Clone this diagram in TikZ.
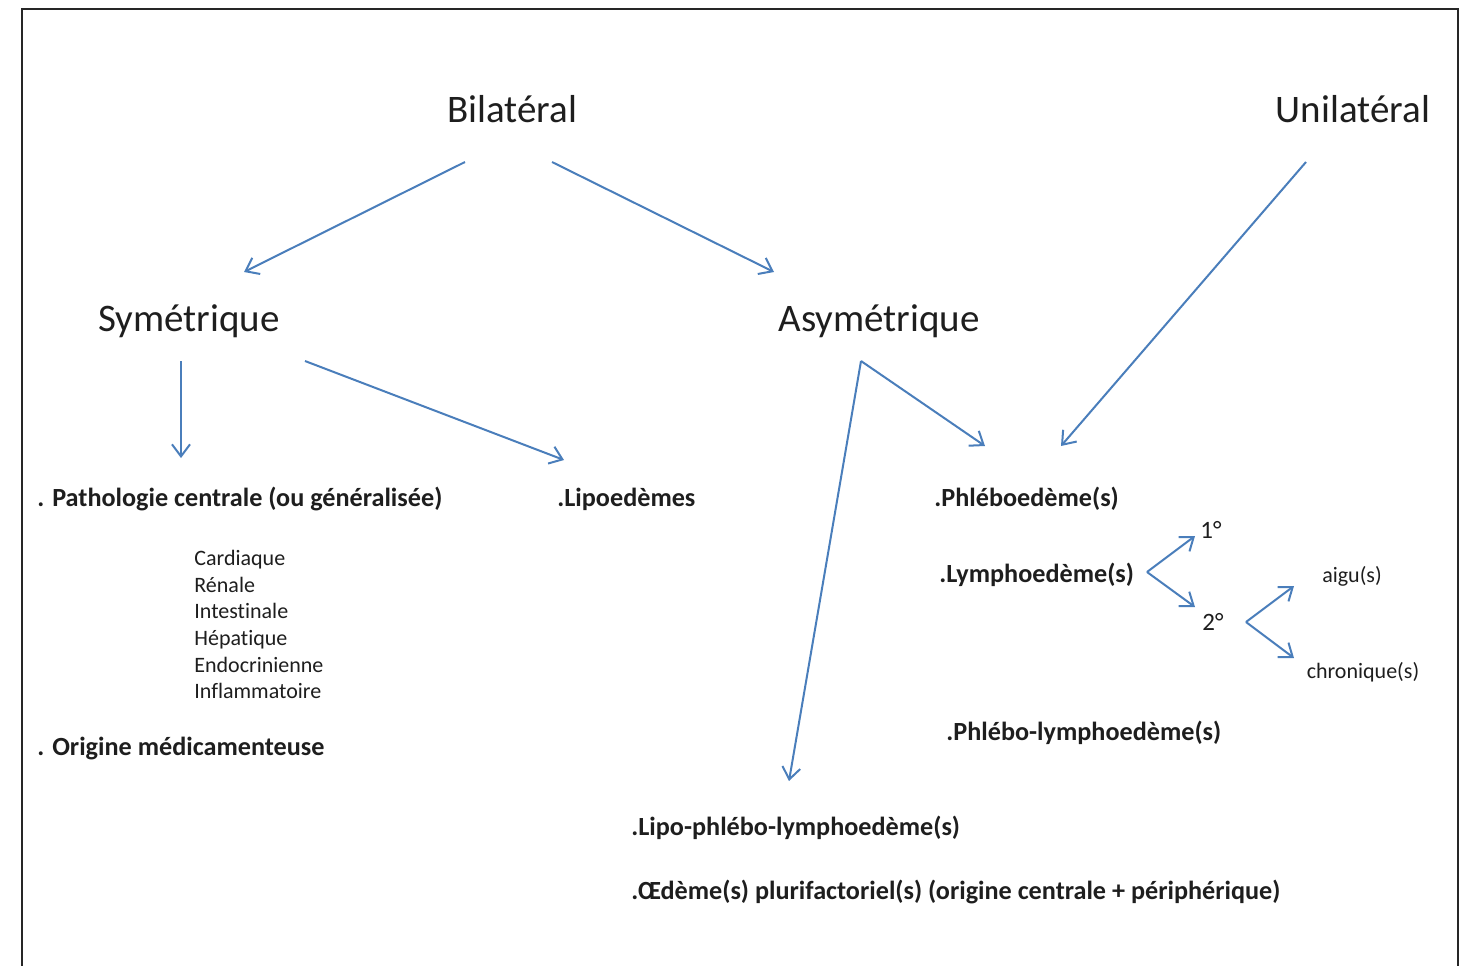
\documentclass[tikz,border=0pt]{standalone}
\usepackage{fontspec}
\setmainfont[Ligatures=NoCommon]{Carlito}
\usepackage{xcolor}
\usetikzlibrary{arrows.meta}

\definecolor{arrowblue}{RGB}{74,126,187}
\definecolor{textgray}{RGB}{30,30,30}

\begin{document}
\begin{tikzpicture}[
  x=0.5pt, y=-0.5pt,
  title/.style={font=\fontsize{19.5}{23}\selectfont, text=textgray, inner sep=0pt},
  item/.style={font=\fontsize{13.1}{15}\selectfont\bfseries, text=textgray, anchor=west, inner sep=0pt},
  cause/.style={font=\fontsize{11}{13.3}\selectfont, text=textgray, anchor=north west,
                align=left, inner sep=0pt},
  small/.style={font=\fontsize{11}{13}\selectfont, text=textgray, inner sep=0pt},
  deg/.style={font=\fontsize{12.5}{14}\selectfont, text=textgray, inner sep=0pt},
  link/.style={draw=arrowblue, line width=1pt, -{Straight Barb[length=6pt, width=9pt]}},
]
  \useasboundingbox (0,0) rectangle (1468,965);

  % --- Frame (open at the bottom) ---
  \draw[line width=1.1pt, draw=black!85] (22,990) -- (22,9) -- (1458,9) -- (1458,990);

  % --- Top level ---
  \node[title] (bilat)  at (512, 109) {Bilatéral};
  \node[title] (unilat) at (1353, 109) {Unilatéral};

  % --- Second level ---
  \node[title] (sym)  at (189, 321) {Symétrique};
  \node[title] (asym) at (879, 321) {Asymétrique};

  % --- Left column ---
  \node[item] (patho) at (37, 499) {. Pathologie centrale (ou généralisée)};
  \node[cause] (causes) at (194, 550)
    {Cardiaque\\Rénale\\Intestinale\\Hépatique\\Endocrinienne\\Inflammatoire};
  \node[item] (medic) at (37, 749) {. Origine médicamenteuse};
  \node[item] (lipo)  at (557, 499) {.Lipoedèmes};

  % --- Right column ---
  \node[item] (phlebo) at (934, 499) {.Phléboedème(s)};
  \node[item] (lymph)  at (939, 575) {.Lymphoedème(s)};
  \node[deg] (prim) at (1211, 530) {1°};
  \node[deg] (sec)  at (1213, 622) {2°};
  \node[small] (aigu)   at (1352, 576) {aigu(s)};
  \node[small] (chron)  at (1363, 672) {chronique(s)};
  \node[item] (phlym)  at (946, 733) {.Phlébo-lymphoedème(s)};
  \node[item] (lipphl) at (631, 828) {.Lipo-phlébo-lymphoedème(s)};
  \node[item] (plurif) at (631, 892) {.Œdème(s) plurifactoriel(s) (origine centrale + périphérique)};

  % --- Arrow ends ---
  \coordinate (bilatL) at (465, 162);
  \coordinate (bilatR) at (552, 162);
  \coordinate (unilatS) at (1306, 162);
  \coordinate (symL) at (181, 361);
  \coordinate (symR) at (305, 361);
  \coordinate (asymS) at (861, 361);
  \coordinate (lymphS) at (1147, 572);
  \coordinate (secS) at (1246, 622);
  \coordinate (symT) at (244, 272);
  \coordinate (asymT) at (774, 272);
  \coordinate (pathoT) at (181, 458);
  \coordinate (lipoT) at (564, 460);
  \coordinate (phleboT) at (985, 446);
  \coordinate (phleboU) at (1061, 446);
  \coordinate (lipphlT) at (789, 781);
  \coordinate (primT) at (1195, 536);
  \coordinate (secT) at (1195, 607);
  \coordinate (aiguT) at (1294, 586);
  \coordinate (chronT) at (1294, 658);

  % --- Arrows ---
  \draw[link] (bilatL) -- (symT);
  \draw[link] (bilatR) -- (asymT);
  \draw[link] (unilatS) -- (phleboU);
  \draw[link] (symL) -- (pathoT);
  \draw[link] (symR) -- (lipoT);
  \draw[link] (asymS) -- (phleboT);
  \draw[link] (asymS) -- (lipphlT);
  \draw[link] (lymphS) -- (primT);
  \draw[link] (lymphS) -- (secT);
  \draw[link] (secS) -- (aiguT);
  \draw[link] (secS) -- (chronT);

\end{tikzpicture}
\end{document}
